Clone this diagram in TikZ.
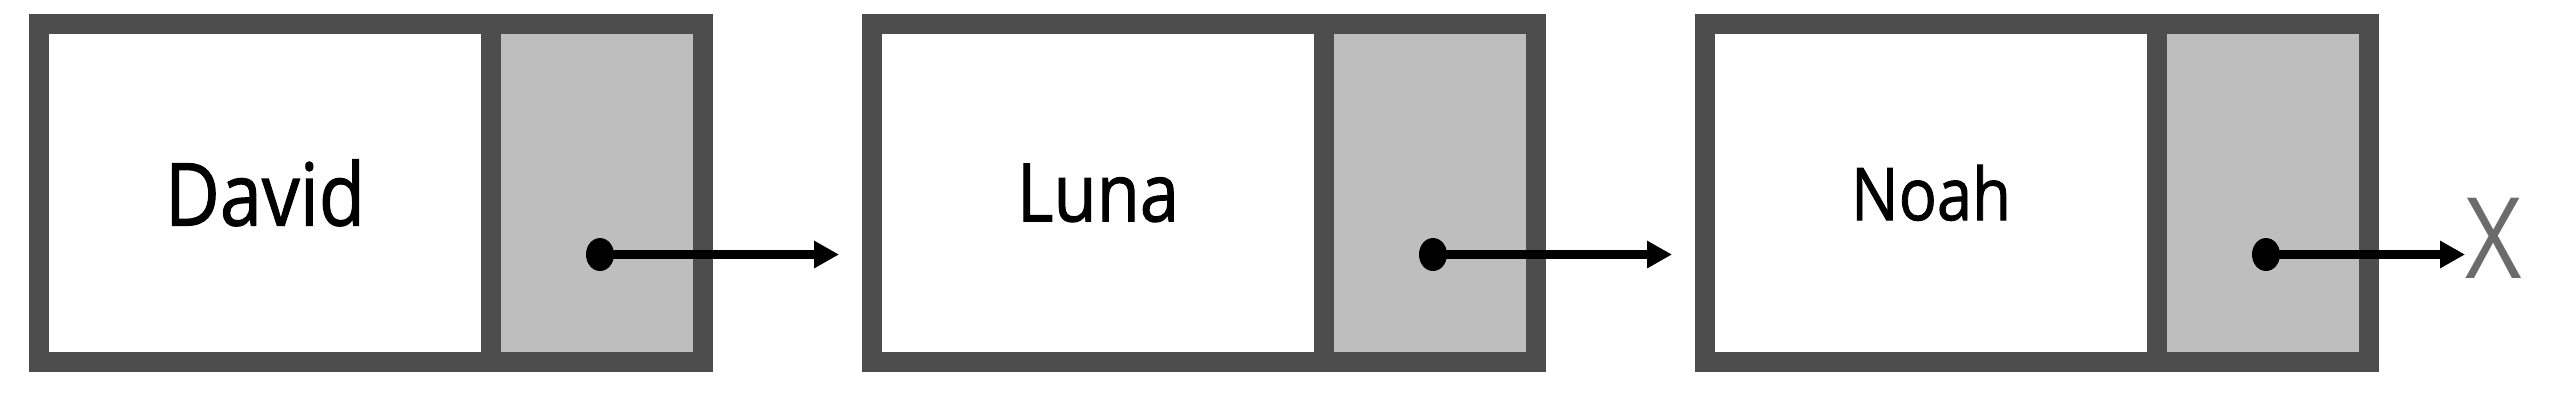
\documentclass[tikz,border=0pt]{standalone}
\usepackage{graphicx}
\usepackage{fontspec}
\newfontfamily\cellfont[FakeBold=1.3]{Open Sans}
\newfontfamily\endfont{Open Sans}
\usetikzlibrary{arrows.meta,positioning,shapes.geometric}
\definecolor{framegray}{HTML}{4D4D4D}
\definecolor{ptrgray}{HTML}{BEBEBE}
\definecolor{nullgray}{HTML}{6B6B6B}
\newcommand{\narrow}[1]{\scalebox{0.87}[1]{#1}}

\begin{document}
\begin{tikzpicture}[
      datacell/.style={
         rectangle,
         draw=framegray,
         fill=white,
         line width=0.2cm,
         inner sep=0pt,
         outer sep=0pt,
         minimum width=4.52cm,
         minimum height=3.38cm,
         text depth=0cm},
      ptrcell/.style={
         datacell,
         fill=ptrgray,
         minimum width=2.12cm},
      ptrdot/.style={
         ellipse,
         fill=black,
         inner sep=0pt,
         minimum width=0.28cm,
         minimum height=0.33cm},
      nullmark/.style={
         inner sep=0pt,
         text=nullgray,
         font=\endfont\fontsize{32}{36}\selectfont},
      link/.style={-{Triangle[length=0.25cm,width=0.26cm]},line width=0.09cm},
      node distance=0cm and 1.69cm
      ]
      \useasboundingbox (0,0) rectangle (25.62,-4);

      \node[datacell,font=\cellfont\fontsize{24.7}{30}\selectfont] (david) at (2.65,-1.925) {\narrow{David}};
      \node[ptrcell,right=0pt of david] (davidptr) {};
      \node[datacell,right=of davidptr,font=\cellfont\fontsize{23}{28}\selectfont] (luna) {\narrow{Luna}};
      \node[ptrcell,right=0pt of luna] (lunaptr) {};
      \node[datacell,right=of lunaptr,font=\cellfont\fontsize{20.7}{25}\selectfont] (noah) {\narrow{Noah}};
      \node[ptrcell,right=0pt of noah] (noahptr) {};

      \node[ptrdot] (davidend) at ([xshift=0.03cm,yshift=-0.62cm]davidptr.center) {};
      \node[ptrdot] (lunaend) at ([xshift=0.03cm,yshift=-0.62cm]lunaptr.center) {};
      \node[ptrdot] (noahend) at ([xshift=0.03cm,yshift=-0.62cm]noahptr.center) {};

      \node[nullmark,right=0.96cm of noahptr,yshift=-0.455cm] (null) {\narrow{X}};

    \foreach \i/\j/\gap in {% start node/end node/gap before end
      davidend/luna/0.33cm,
      lunaend/noah/0.33cm,
      noahend/null/0cm}
       \draw [link,shorten >=\gap] (\i.center) -- (\i -| \j.west);

    \end{tikzpicture}
\end{document}
